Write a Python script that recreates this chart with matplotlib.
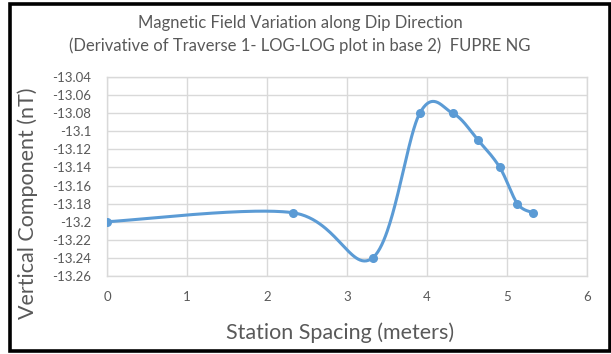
import numpy as np
import matplotlib
matplotlib.use('Agg')
import matplotlib.pyplot as plt
from matplotlib.patches import Rectangle

# data (x = log2 of station spacing)
spacing_log2 = [0.0, 2.32, 3.32, 3.91, 4.32, 4.64, 4.91, 5.13, 5.32]
vertical_nT = [-13.20, -13.19, -13.24, -13.08, -13.08, -13.11, -13.14, -13.18, -13.19]

x_ticks = [0, 1, 2, 3, 4, 5, 6]
y_ticks = [-13.26, -13.24, -13.22, -13.2, -13.18, -13.16, -13.14, -13.12, -13.1, -13.08, -13.06, -13.04]
y_tick_labels = ['-13.26', '-13.24', '-13.22', '-13.2', '-13.18', '-13.16', '-13.14',
                 '-13.12', '-13.1', '-13.08', '-13.06', '-13.04']

line_color = '#5B9BD5'
text_color = '#595959'
grid_color = '#D9D9D9'
plt.rcParams['font.family'] = ['Lato', 'DejaVu Sans']


def excel_smooth(xs, ys, n=60):
    """Bezier smoothing like Excel's 'smoothed line' option"""
    pts = np.column_stack([xs, ys]).astype(float)
    out = []
    for i in range(len(pts) - 1):
        p0 = pts[i - 1] if i > 0 else pts[i]
        p1 = pts[i]
        p2 = pts[i + 1]
        p3 = pts[i + 2] if i + 2 < len(pts) else pts[i + 1]
        c1 = p1 + (p2 - p0) / 6.0
        c2 = p2 - (p3 - p1) / 6.0
        t = np.linspace(0, 1, n)[:, None]
        seg = ((1 - t) ** 3) * p1 + 3 * ((1 - t) ** 2) * t * c1 + 3 * (1 - t) * t ** 2 * c2 + t ** 3 * p2
        out.append(seg if i == 0 else seg[1:])
    seg = np.vstack(out)
    return seg[:, 0], seg[:, 1]


fig = plt.figure(figsize=(6.11, 3.54), dpi=100)
W, H = 611.0, 354.0
ax = fig.add_axes([107 / W, 1 - 276 / H, 480 / W, 199 / H])

sx, sy = excel_smooth(spacing_log2, vertical_nT)
ax.plot(sx, sy, color=line_color, linewidth=2.2, solid_capstyle='round', zorder=3)
ax.plot(spacing_log2, vertical_nT, 'o', color=line_color, markersize=5.5, zorder=4)

ax.set_xlim(0, 6)
ax.set_ylim(-13.26, -13.04)
ax.set_xticks(x_ticks)
ax.set_yticks(y_ticks)
ax.set_yticklabels(y_tick_labels)
ax.tick_params(length=0, labelsize=9.5, colors=text_color)
ax.tick_params(axis='x', pad=11)
ax.tick_params(axis='y', pad=11.5)
ax.grid(True, color=grid_color, linewidth=1)
ax.set_axisbelow(True)
for s in ax.spines.values():
    s.set_color(grid_color)
    s.set_linewidth(1)

fig.text(300 / W, 1 - 23 / H, 'Magnetic Field Variation along Dip Direction',
         ha='center', va='center', fontsize=12, color=text_color)
fig.text(300 / W, 1 - 46 / H, '(Derivative of Traverse 1- LOG-LOG plot in base 2)  FUPRE NG',
         ha='center', va='center', fontsize=12, color=text_color)
fig.text(340 / W, 1 - 333 / H, 'Station Spacing (meters)',
         ha='center', va='center', fontsize=15.5, color=text_color)
fig.text(28 / W, 1 - 203 / H, 'Vertical Component (nT)', rotation=90,
         ha='center', va='center', fontsize=15.5, color=text_color)

# black frame around the whole chart
fig.patches.append(Rectangle((10 / W, 1 - 350.5 / H), 599.5 / W, 346.5 / H,
                             transform=fig.transFigure, fill=False,
                             edgecolor='black', linewidth=2.6))

fig.savefig('out.png', dpi=100)
